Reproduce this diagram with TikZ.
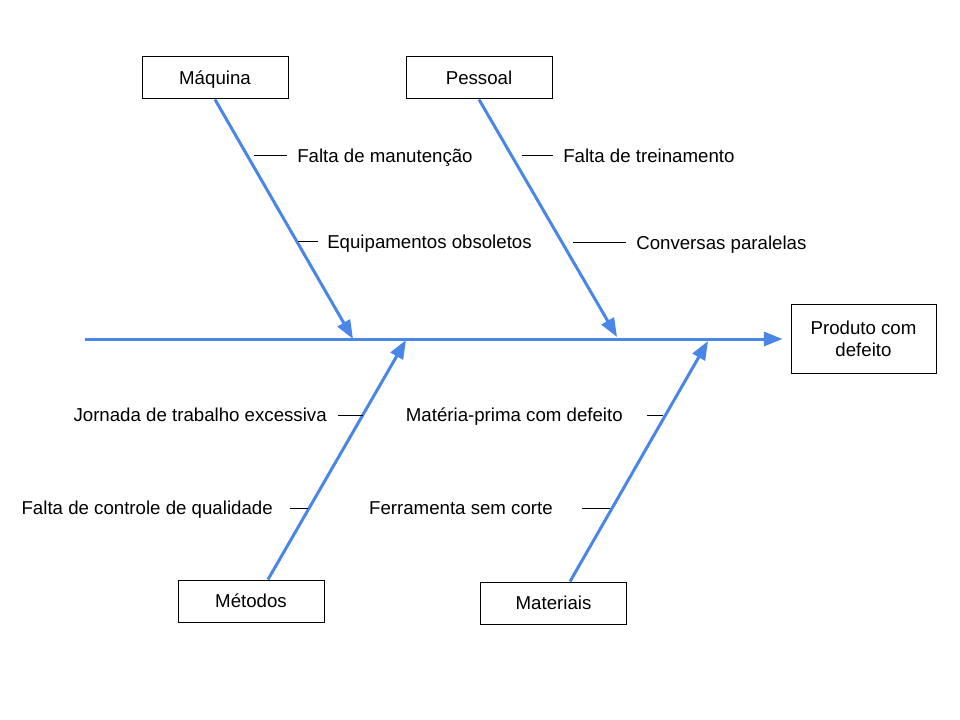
\documentclass[tikz,border=0pt]{standalone}
\usepackage{fontspec}
\setmainfont{Liberation Sans}
\usetikzlibrary{arrows.meta}
\definecolor{boneblue}{RGB}{74,134,232}
\begin{document}
\begin{tikzpicture}[x=0.75pt, y=-0.75pt, font=\fontsize{14}{16.5}\selectfont,
    box/.style={draw, line width=0.75pt, fill=white, minimum width=109.5pt, minimum height=31.5pt, inner sep=0pt},
    catbox/.style={box, text height=10pt, text depth=0pt},
    bone/.style={draw=boneblue, line width=2.25pt, -{Triangle[length=14pt, width=10.5pt]}},
    tick/.style={draw, line width=0.75pt},
    cause/.style={inner xsep=7.5pt, inner ysep=0pt, text height=10pt, text depth=0pt}]
    \useasboundingbox (0,0) rectangle (960,720);
    % effect and spine
    \node[box, minimum width=108.75pt, minimum height=51pt, align=center] (eff) at (863.5,339) {Produto com\\defeito};
    \coordinate (tail) at (85,339);
    \draw[bone, shorten >=6pt] (tail) -- (eff.west);
    % categories
    \node[catbox] (maq) at (215,78) {Máquina};
    \node[catbox] (pes) at (479,78) {Pessoal};
    \node[catbox] (met) at (251,601) {Métodos};
    \node[catbox] (mat) at (553.5,603) {Materiais};
    \coordinate (maq-tip) at (353,339);
    \coordinate (pes-tip) at (617,337);
    \coordinate (met-tip) at (406,340);
    \coordinate (mat-tip) at (708,341);
    \draw[bone] (maq.south) -- (maq-tip);
    \draw[bone] (pes.south) -- (pes-tip);
    \draw[bone] ([xshift=12.75pt]met.north) -- (met-tip);
    \draw[bone] ([xshift=12.4pt]mat.north) -- (mat-tip);
    % causes, upper side
    \coordinate (c1) at (254,156); \node[cause, anchor=west] (l1) at (287,156) {Falta de manutenção};
    \coordinate (c2) at (298,242); \node[cause, anchor=west, inner xsep=6.75pt] (l2) at (318,242) {Equipamentos obsoletos};
    \coordinate (c3) at (522,156); \node[cause, anchor=west] (l3) at (553,156) {Falta de treinamento};
    \coordinate (c4) at (573,243); \node[cause, anchor=west] (l4) at (626,243) {Conversas paralelas};
    % causes, lower side
    \coordinate (c5) at (363,415); \node[cause, anchor=east, inner xsep=8.25pt] (l5) at (338,415) {Jornada de trabalho excessiva};
    \coordinate (c6) at (308,508); \node[cause, anchor=east, inner xsep=12.75pt] (l6) at (290,508) {Falta de controle de qualidade};
    \coordinate (c7) at (663,415); \node[cause, anchor=east, inner xsep=18pt] (l7) at (647,415) {Matéria-prima com defeito};
    \coordinate (c8) at (610,508); \node[cause, anchor=east, inner xsep=21.75pt] (l8) at (582,508) {Ferramenta sem corte};
    \foreach \i in {1,...,8} \draw[tick] (c\i) -- (l\i);
\end{tikzpicture}
\end{document}
